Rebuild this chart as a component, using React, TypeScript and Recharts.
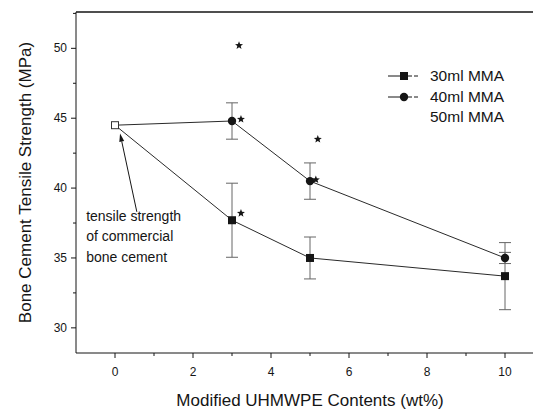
import React from 'react';
import {
  ComposedChart,
  Line,
  Scatter,
  XAxis,
  YAxis,
  ErrorBar,
  ReferenceLine,
  ReferenceDot,
  Label,
} from 'recharts';

// values
const contents = [0, 3, 5, 10];
const mma30 = [44.5, 37.7, 35.0, 33.7];
const mma30Err = [0, 2.65, 1.5, 2.4];
const mma40 = [44.5, 44.8, 40.5, 35.0];
const mma40Err = [0, 1.3, 1.3, 0.4];

const starX = [3.18, 3.23, 3.23, 5.2, 5.15];
const starY = [50.2, 44.93, 38.2, 43.5, 40.6];

const xTicks = [0, 1, 2, 3, 4, 5, 6, 7, 8, 9, 10, 11];
const yTicks = [30, 32.5, 35, 37.5, 40, 42.5, 45, 47.5, 50, 52.5];

const noteLines = ['tensile strength', 'of commercial', 'bone cement'];

const data = contents.map((c, i) => ({
  x: c,
  s30: mma30[i],
  e30: mma30Err[i],
  s40: mma40[i],
  e40: mma40Err[i],
}));

const stars = starX.map((x, i) => ({ x, y: starY[i] }));

const FONT = '"Liberation Sans", Arial, sans-serif';
const INK = '#151515';

const XTick = (props: any) => {
  const { x, y, payload } = props;
  const major = payload.value % 2 === 0;
  return (
    <g>
      <line x1={x} x2={x} y1={y} y2={y + (major ? 5 : 3)} stroke={INK} />
      {major && (
        <text x={x} y={y + 23} textAnchor="middle" fontSize={12} fontFamily={FONT} fill={INK}>
          {payload.value}
        </text>
      )}
    </g>
  );
};

const YTick = (props: any) => {
  const { x, y, payload } = props;
  const major = payload.value % 5 === 0;
  return (
    <g>
      <line x1={x - (major ? 5 : 3)} x2={x} y1={y} y2={y} stroke={INK} />
      {major && (
        <text x={x - 9} y={y + 4} textAnchor="end" fontSize={12} fontFamily={FONT} fill={INK}>
          {payload.value}
        </text>
      )}
    </g>
  );
};

const squareDot = (props: any) => {
  const { cx, cy, index } = props;
  if (index === 0) {
    return <rect key={index} x={cx - 3.5} y={cy - 3.5} width={7} height={7} fill="#fff" stroke="#333" strokeWidth={1} />;
  }
  return <rect key={index} x={cx - 4} y={cy - 4} width={8} height={8} fill={INK} />;
};

const circleDot = (props: any) => {
  const { cx, cy, index } = props;
  if (index === 0) return <g key={index} />;
  return <circle key={index} cx={cx} cy={cy} r={4.2} fill={INK} />;
};

const starShape = (props: any) => {
  const { cx, cy } = props;
  const pts: string[] = [];
  for (let k = 0; k < 10; k++) {
    const r = k % 2 === 0 ? 4.2 : 1.8;
    const a = -Math.PI / 2 + (k * Math.PI) / 5;
    pts.push(`${cx + r * Math.cos(a)},${cy + r * Math.sin(a)}`);
  }
  return <polygon points={pts.join(' ')} fill={INK} />;
};

const arrowShape = (props: any) => {
  const { x1, y1, x2, y2 } = props;
  const ang = Math.atan2(y2 - y1, x2 - x1);
  const len = 8;
  const w = 2.5;
  const bx = x2 - len * Math.cos(ang);
  const by = y2 - len * Math.sin(ang);
  const px = -Math.sin(ang) * w;
  const py = Math.cos(ang) * w;
  return (
    <g>
      <line x1={x1} y1={y1} x2={bx} y2={by} stroke={INK} strokeWidth={1} />
      <polygon points={`${x2},${y2} ${bx + px},${by + py} ${bx - px},${by - py}`} fill={INK} />
    </g>
  );
};

const noteShape = (props: any) => {
  const { cx, cy } = props;
  return (
    <text x={cx} y={cy} fontSize={14} fontFamily={FONT} fill={INK}>
      {noteLines.map((t, i) => (
        <tspan key={i} x={cx} dy={i === 0 ? 0 : 20.5}>
          {t}
        </tspan>
      ))}
    </text>
  );
};

const legendItems = [
  { name: '30ml MMA', mark: 'square' },
  { name: '40ml MMA', mark: 'circle' },
  { name: '50ml MMA', mark: 'none' },
];

const LegendBox = () => (
  <div style={{ position: 'absolute', left: 378, top: 58, fontFamily: FONT, fontSize: 15.5, color: INK }}>
    {legendItems.map((it) => (
      <div key={it.name} style={{ display: 'flex', alignItems: 'center', height: 20.5 }}>
        <svg width={42} height={12}>
          {it.mark !== 'none' && (
            <>
              <line x1={2} x2={14} y1={6} y2={6} stroke={INK} />
              <line x1={22} x2={34} y1={6} y2={6} stroke={INK} strokeDasharray="4 2" />
            </>
          )}
          {it.mark === 'square' && <rect x={14} y={2} width={8} height={8} fill={INK} />}
          {it.mark === 'circle' && <circle cx={18} cy={6} r={4.2} fill={INK} />}
        </svg>
        <span style={{ marginLeft: 2 }}>{it.name}</span>
      </div>
    ))}
  </div>
);

export default function App() {
  return (
    <div style={{ position: 'relative', width: 525, height: 411, marginBottom: -8, overflow: 'hidden' }}>
      <ComposedChart width={545} height={411} data={data} margin={{ top: 4, right: 9, left: 0, bottom: 8 }}>
        <XAxis
          dataKey="x"
          type="number"
          domain={[-1, 11]}
          ticks={xTicks}
          interval={0}
          allowDataOverflow
          tickLine={false}
          tickSize={0}
          tickMargin={0}
          tick={<XTick />}
          height={58}
          stroke={INK}
        >
          <Label
            value="Modified UHMWPE Contents (wt%)"
            position="insideBottom"
            offset={5}
            style={{ fontSize: 17, fontFamily: FONT, fill: INK }}
          />
        </XAxis>
        <YAxis
          type="number"
          domain={[28.2, 52.6]}
          ticks={yTicks}
          interval={0}
          allowDataOverflow
          tickLine={false}
          tickSize={0}
          tickMargin={0}
          tick={<YTick />}
          width={68}
          stroke={INK}
        >
          <Label
            value="Bone Cement Tensile Strength (MPa)"
            angle={-90}
            position="insideLeft"
            offset={17}
            style={{ fontSize: 17, fontFamily: FONT, fill: INK, textAnchor: 'middle' }}
          />
        </YAxis>
        <ReferenceLine y={52.6} stroke={INK} strokeWidth={1.5} ifOverflow="visible" />
        <Line
          type="linear"
          dataKey="s30"
          name="30ml MMA"
          stroke="#2a2a2a"
          strokeWidth={1}
          dot={squareDot}
          activeDot={false}
          isAnimationActive={false}
        >
          <ErrorBar dataKey="e30" width={6} stroke="#666" strokeWidth={1} direction="y" />
        </Line>
        <Line
          type="linear"
          dataKey="s40"
          name="40ml MMA"
          stroke="#2a2a2a"
          strokeWidth={1}
          dot={circleDot}
          activeDot={false}
          isAnimationActive={false}
        >
          <ErrorBar dataKey="e40" width={6} stroke="#666" strokeWidth={1} direction="y" />
        </Line>
        <Scatter data={stars} dataKey="y" shape={starShape} legendType="none" isAnimationActive={false} />
        <ReferenceLine
          segment={[
            { x: 0.56, y: 38.3 },
            { x: 0.13, y: 43.9 },
          ]}
          shape={arrowShape}
          ifOverflow="visible"
        />
        <ReferenceDot x={-0.74} y={37.65} r={0} shape={noteShape} ifOverflow="visible" />
      </ComposedChart>
      <LegendBox />
    </div>
  );
}
